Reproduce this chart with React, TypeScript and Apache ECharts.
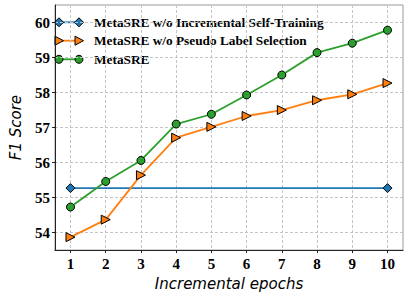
import React, { useEffect, useRef } from "react";
import * as echarts from "echarts";

const epochs = [1, 2, 3, 4, 5, 6, 7, 8, 9, 10];
const xTicks = [1, 2, 3, 4, 5, 6, 7, 8, 9, 10];
const yTicks = [54, 55, 56, 57, 58, 59, 60];
const noIstEpochs = [1, 10];
const noIstValues = [55.27, 55.27];
const noPlsValues = [53.87, 54.37, 55.64, 56.71, 57.02, 57.33, 57.5, 57.78, 57.95, 58.27];
const metaValues = [54.73, 55.46, 56.06, 57.1, 57.38, 57.93, 58.5, 59.14, 59.41, 59.78];
const seriesNames = [
  "MetaSRE w/o Incremental Self-Training",
  "MetaSRE w/o Pseudo Label Selection",
  "MetaSRE",
];
const colors = ["#1f77b4", "#ff7f0e", "#2ca02c"];

export default function App() {
  const ref = useRef<HTMLDivElement>(null);
  useEffect(() => {
    document.body.style.margin = "0";
    const chart = echarts.init(ref.current!, null, { renderer: "svg" });
    const serif = "'Liberation Serif', 'Times New Roman', serif";
    const sans = "'DejaVu Sans', sans-serif";

    const legendItems: any[] = [];
    const rowY = [22.3, 40.7, 59.3];
    seriesNames.forEach((name, i) => {
      const y = rowY[i];
      const x0 = 59, x1 = 79;
      legendItems.push({
        type: "line",
        shape: { x1: x0, y1: y, x2: x1, y2: y },
        style: { stroke: colors[i], lineWidth: 1.8 },
      });
      [x0, x1].forEach((cx) => {
        if (i === 0) {
          legendItems.push({
            type: "polygon",
            shape: { points: [[cx, y - 4.5], [cx + 4.5, y], [cx, y + 4.5], [cx - 4.5, y]] },
            style: { fill: colors[i], stroke: "#000", lineWidth: 1 },
          });
        } else if (i === 1) {
          legendItems.push({
            type: "polygon",
            shape: { points: [[cx - 4, y - 4.5], [cx + 4.5, y], [cx - 4, y + 4.5]] },
            style: { fill: colors[i], stroke: "#000", lineWidth: 1 },
          });
        } else {
          legendItems.push({
            type: "circle",
            shape: { cx, cy: y, r: 4 },
            style: { fill: colors[i], stroke: "#000", lineWidth: 1 },
          });
        }
      });
      legendItems.push({
        type: "text",
        x: 94,
        y,
        style: {
          text: name,
          font: `bold 13.3px ${serif}`,
          fill: "#000",
          textVerticalAlign: "middle",
          verticalAlign: "middle",
        },
      });
    });

    chart.setOption({
      animation: false,
      grid: {
        left: 44,
        top: 5,
        width: 359,
        height: 248,
        show: true,
        borderColor: "#999",
        borderWidth: 1,
        backgroundColor: "transparent",
      },
      xAxis: {
        type: "value",
        min: 0.56,
        max: 10.44,
        name: "Incremental epochs",
        nameLocation: "middle",
        nameGap: 25,
        nameTextStyle: { fontFamily: sans, fontStyle: "italic", fontSize: 15, color: "#000" },
        axisLine: { show: true, lineStyle: { color: "#222", width: 1 } },
        axisTick: { show: true, length: 3, lineStyle: { color: "#222" }, customValues: xTicks },
        axisLabel: {
          customValues: xTicks,
          fontFamily: serif,
          fontWeight: "bold",
          fontSize: 15,
          color: "#000",
          margin: 6,
        },
        splitLine: { show: true, lineStyle: { color: "#c4c4c4", type: [3, 2], width: 1 } },
      },
      yAxis: {
        type: "value",
        min: 53.5,
        max: 60.5,
        name: "F1 Score",
        nameLocation: "middle",
        nameGap: 32,
        nameTextStyle: { fontFamily: sans, fontStyle: "italic", fontSize: 15, color: "#000" },
        axisLine: { show: true, lineStyle: { color: "#222", width: 1 } },
        axisTick: { show: true, length: 3, lineStyle: { color: "#222" }, customValues: yTicks },
        axisLabel: {
          customValues: yTicks,
          fontFamily: serif,
          fontWeight: "bold",
          fontSize: 15,
          color: "#000",
          margin: 5,
        },
        splitLine: { show: true, lineStyle: { color: "#c4c4c4", type: [3, 2], width: 1 } },
      },
      graphic: legendItems,
      series: [
        {
          name: seriesNames[0],
          type: "line",
          data: noIstEpochs.map((e, i) => [e, noIstValues[i]]),
          symbol: "diamond",
          symbolSize: 9,
          lineStyle: { color: colors[0], width: 1.8 },
          itemStyle: { color: colors[0], borderColor: "#000", borderWidth: 1 },
        },
        {
          name: seriesNames[1],
          type: "line",
          data: epochs.map((e, i) => [e, noPlsValues[i]]),
          symbol: "triangle",
          symbolRotate: -90,
          symbolSize: 9,
          lineStyle: { color: colors[1], width: 1.8 },
          itemStyle: { color: colors[1], borderColor: "#000", borderWidth: 1 },
        },
        {
          name: seriesNames[2],
          type: "line",
          data: epochs.map((e, i) => [e, metaValues[i]]),
          symbol: "circle",
          symbolSize: 8,
          lineStyle: { color: colors[2], width: 1.8 },
          itemStyle: { color: colors[2], borderColor: "#000", borderWidth: 1 },
        },
      ],
    });
    return () => chart.dispose();
  }, []);
  return <div ref={ref} style={{ width: 407, height: 296 }} />;
}
